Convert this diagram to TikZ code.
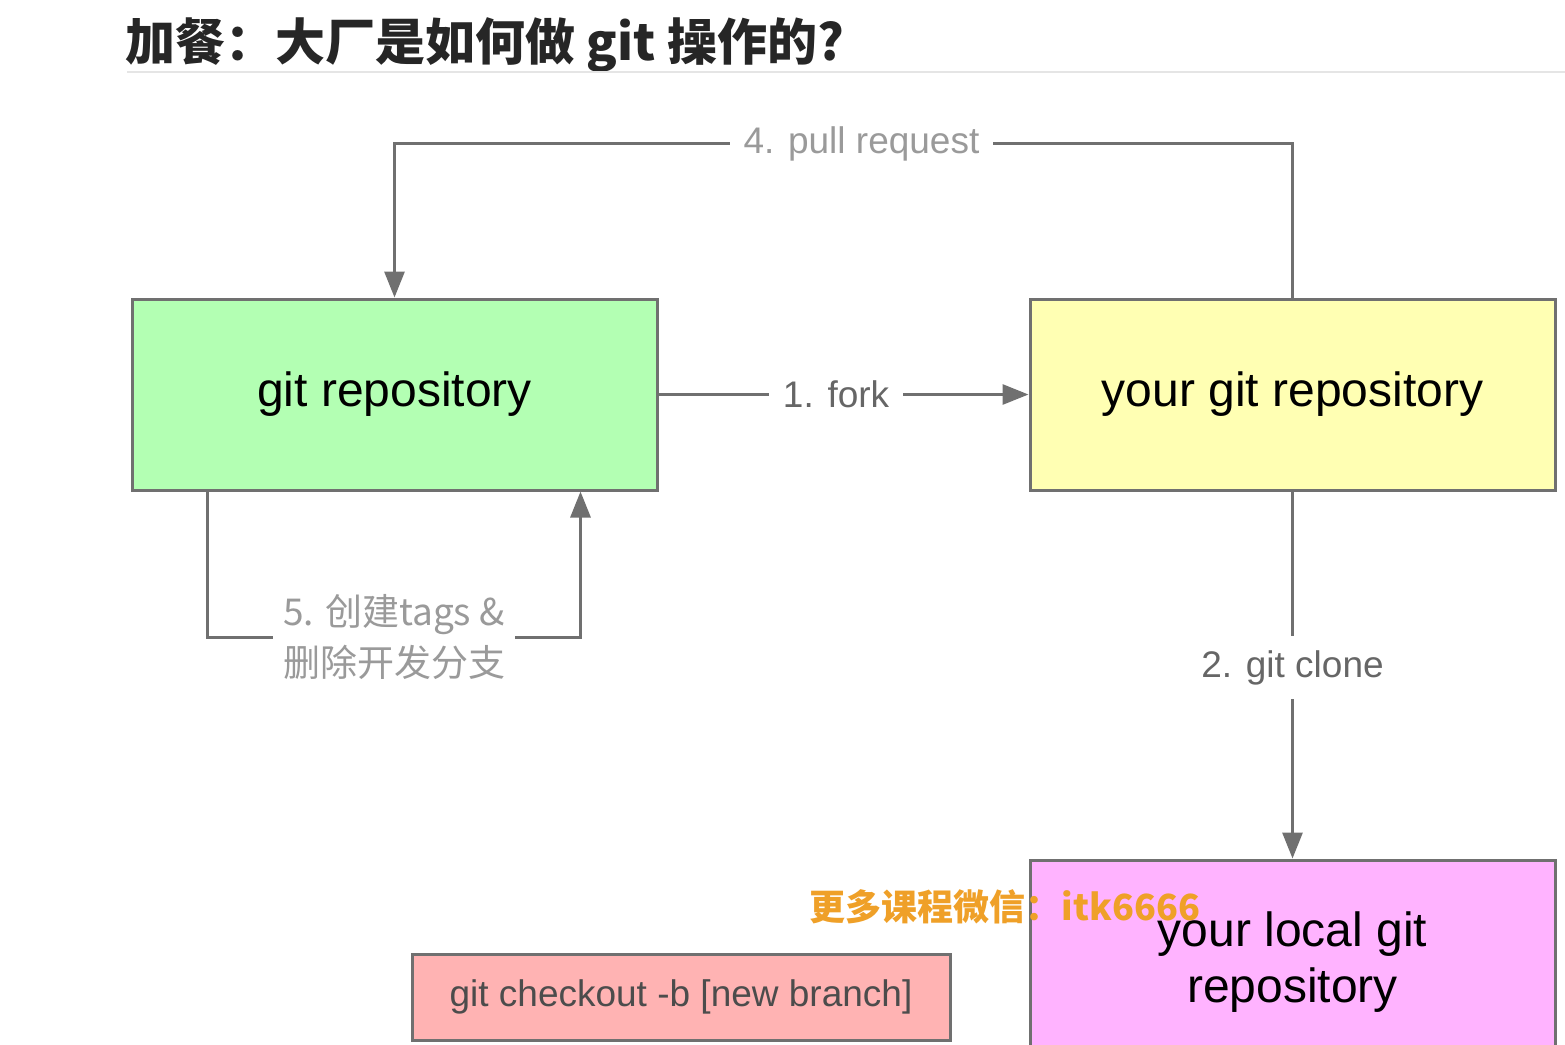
\documentclass[tikz,border=0pt]{standalone}
\usepackage{fontspec}
\setmainfont{Liberation Sans}
\newfontfamily\cjk{Noto Sans CJK SC}
\usepackage{tikz}
\usetikzlibrary{arrows.meta}
\definecolor{boxgreen}{HTML}{B3FFB3}
\definecolor{boxyellow}{HTML}{FFFFB3}
\definecolor{boxpink}{HTML}{FFB3FF}
\definecolor{boxred}{HTML}{FFB3B3}
\definecolor{edgegray}{HTML}{707070}
\definecolor{labgray}{HTML}{666666}
\definecolor{lightgray}{HTML}{9A9A9A}
\definecolor{markorange}{HTML}{EFA028}

\begin{document}
\begin{tikzpicture}[x=1pt,y=-1pt,
    box/.style={shape=rectangle,draw=edgegray,line width=3pt,inner sep=0pt,
        font=\fontsize{48}{56}\selectfont,align=center},
    conn/.style={color=edgegray,line width=3pt,-{Triangle[length=26pt,width=20pt]}},
    lbl/.style={fill=white,inner sep=14pt,font=\fontsize{37}{44}\selectfont}]
                \useasboundingbox (0,0) rectangle (1565,1044);
                \node[anchor=west,font=\cjk\bfseries\fontsize{50}{56}\selectfont,text=black!85] (T) at (122,45) {加餐：大厂是如何做 git 操作的?};
                \draw[black!10,line width=1.5pt] (127,72) -- (1565,72);

                \node[box,fill=boxgreen,minimum width=525pt,minimum height=191pt] (A) at (394.5,394.5) {git repository};
                \node[box,fill=boxyellow,minimum width=525pt,minimum height=191pt] (B) at (1292.5,394.5) {your git repository};
                \node[box,fill=boxpink,minimum width=525pt,minimum height=194pt,text depth=0pt] (C) at (1292.5,957) {your local git\\repository};
                \node[box,fill=boxred,minimum width=538pt,minimum height=86pt,text=black!70,
                    font=\fontsize{37}{44}\selectfont] (D) at (681,997) {git checkout -b [new branch]};

                \path [conn](A) edge node[lbl,text=labgray,pos=0.48] {1. fork} (B);
                \path [conn](B) edge node[lbl,text=labgray,pos=0.48] {2. git clone} (C);
                \draw [conn](B.north) -- ++(0,-154) -| node[lbl,text=lightgray,pos=0.24] {4. pull request} (A.north);
                \draw [conn]([xshift=77pt]A.south west) -- ++(0,146)
                    -| node[lbl,text=lightgray,pos=0.25,inner sep=10pt,font=\cjk\fontsize{37}{51}\selectfont,align=center] {5. 创建tags \&\\删除开发分支}
                    ([xshift=-78pt]A.south east);

                \node[text=markorange,font=\cjk\bfseries\fontsize{36}{42}\selectfont] (W) at (1005,907) {更多课程微信：itk6666};
            \end{tikzpicture}
\end{document}
